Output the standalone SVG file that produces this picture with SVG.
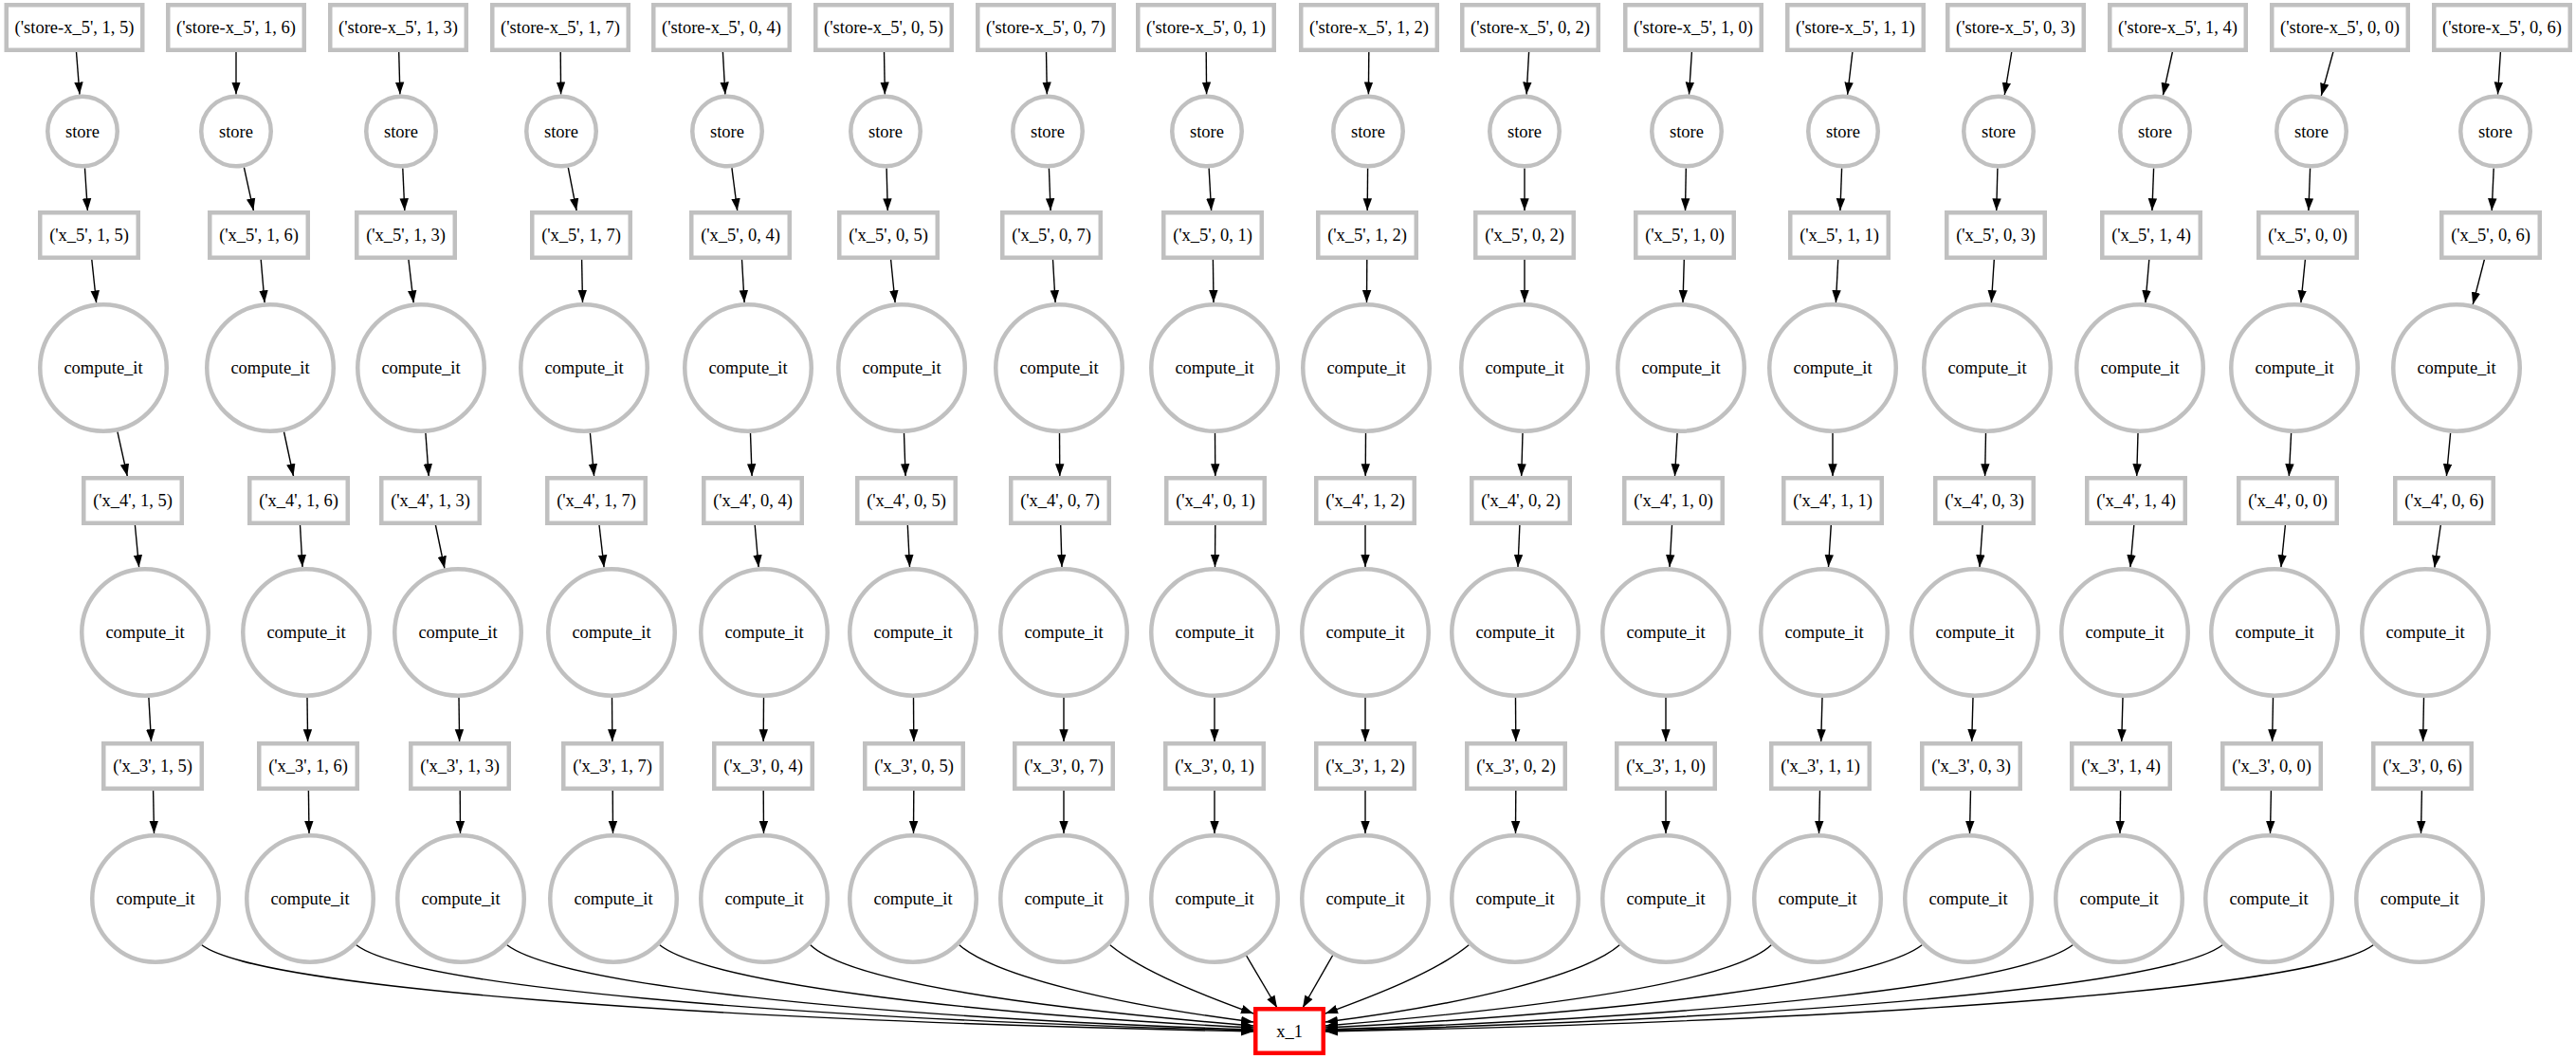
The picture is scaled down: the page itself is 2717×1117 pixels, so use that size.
<svg xmlns="http://www.w3.org/2000/svg" width="2717" height="1117" viewBox="0 0 2717 1117">
<style>
  .node rect, .node circle { fill: #ffffff; stroke: #c0c0c0; stroke-width: 4.5; }
  .node.out rect { stroke: #ff0000; }
  .node text { font-family: "Liberation Serif", "Times New Roman", serif; font-size: 18.5px; text-anchor: middle; fill: #000000; }
  #edges path { fill: none; stroke: #000000; stroke-width: 1.4; marker-end: url(#arrow); }
</style>
<defs>
  <marker id="arrow" markerUnits="userSpaceOnUse" markerWidth="14" markerHeight="10" viewBox="0 0 14 10" refX="13" refY="5" orient="auto">
    <path d="M0,0.3 L13,5 L0,9.7 z" fill="#000000"/>
  </marker>
</defs>
<rect width="2717" height="1117" fill="#ffffff"/>

<g id="edges">
  <!-- column (1,5) -->
  <path d="M80.5,54.75 L84,99.6"/>
  <path d="M89.5,177.4 L92.4,222.25"/>
  <path d="M96.8,273.75 L101.6,319.4"/>
  <path d="M123.9,455.4 L134.3,502.25"/>
  <path d="M142.4,553.75 L146.6,598.3"/>
  <path d="M156.9,735.9 L159.5,782.25"/>
  <path d="M161.6,833.75 L162.5,879"/>
  <!-- column (1,6) -->
  <path d="M249,54.75 L249,99.5"/>
  <path d="M257.4,176.6 L267.4,222.25"/>
  <path d="M275.2,273.75 L279.1,319.25"/>
  <path d="M299.5,455.5 L309.5,502.25"/>
  <path d="M316.5,553.75 L319,598.1"/>
  <path d="M324,736 L324.6,782.25"/>
  <path d="M325.4,833.75 L326,879"/>
  <!-- column (1,3) -->
  <path d="M420.7,54.75 L421.9,99.5"/>
  <path d="M424.8,177.5 L426.8,222.25"/>
  <path d="M430.9,273.75 L436.2,319.4"/>
  <path d="M448.9,456.8 L452.2,502.25"/>
  <path d="M459.4,553.75 L468.9,599.5"/>
  <path d="M484,736 L484.6,782.25"/>
  <path d="M485.2,833.75 L485.5,879"/>
  <!-- column (1,7) -->
  <path d="M591.2,54.75 L591.6,99.5"/>
  <path d="M599.3,176.8 L608.1,222.25"/>
  <path d="M613.6,273.75 L614.5,319"/>
  <path d="M622.4,456.7 L626.6,502.25"/>
  <path d="M632,553.75 L637.1,598.4"/>
  <path d="M645.5,736 L645.8,782.25"/>
  <path d="M646.2,833.75 L646.5,879"/>
  <!-- column (0,4) -->
  <path d="M762.4,54.75 L764.9,99.6"/>
  <path d="M771.9,177.2 L777.7,222.25"/>
  <path d="M782.5,273.75 L785.1,319.1"/>
  <path d="M791.5,457 L793.1,502.25"/>
  <path d="M796.2,553.75 L800.1,598.3"/>
  <path d="M805.5,736 L805.2,782.25"/>
  <path d="M805.2,833.75 L805.5,879"/>
  <!-- column (0,5) -->
  <path d="M932.5,54.75 L933.3,99.5"/>
  <path d="M935.1,177.5 L936.3,222.25"/>
  <path d="M939.6,273.75 L944.1,319.3"/>
  <path d="M953.5,457 L955.1,502.25"/>
  <path d="M957.3,553.75 L959.5,598.1"/>
  <path d="M963.5,736 L963.8,782.25"/>
  <path d="M963.8,833.75 L963.5,879"/>
  <!-- column (0,7) -->
  <path d="M1103.5,54.75 L1104.3,99.5"/>
  <path d="M1106.4,177.5 L1108.1,222.25"/>
  <path d="M1110.5,273.75 L1113.1,319.1"/>
  <path d="M1117.5,457 L1117.8,502.25"/>
  <path d="M1118.7,553.75 L1120,598"/>
  <path d="M1122,736 L1122,782.25"/>
  <path d="M1122,833.75 L1122,879"/>
  <!-- column (0,1) -->
  <path d="M1272.2,54.75 L1272.6,99.5"/>
  <path d="M1275.1,177.4 L1277.6,222.25"/>
  <path d="M1279.4,273.75 L1280,319"/>
  <path d="M1281.5,457 L1281.8,502.25"/>
  <path d="M1281.8,553.75 L1281.5,598"/>
  <path d="M1281,736 L1281,782.25"/>
  <path d="M1281,833.75 L1281,879"/>
  <!-- column (1,2) -->
  <path d="M1443.8,54.75 L1443.4,99.5"/>
  <path d="M1442.6,177.5 L1442.2,222.25"/>
  <path d="M1441.8,273.75 L1441.5,319"/>
  <path d="M1440.5,457 L1440.2,502.25"/>
  <path d="M1440,553.75 L1440,598"/>
  <path d="M1440,736 L1440,782.25"/>
  <path d="M1440,833.75 L1440,879"/>
  <!-- column (0,2) -->
  <path d="M1612.6,54.75 L1610.1,99.6"/>
  <path d="M1608,177.5 L1608,222.25"/>
  <path d="M1608,273.75 L1608,319"/>
  <path d="M1606,457 L1604.7,502.25"/>
  <path d="M1602.9,553.75 L1601,598"/>
  <path d="M1598.5,736 L1598.8,782.25"/>
  <path d="M1598.8,833.75 L1598.5,879"/>
  <!-- column (1,0) -->
  <path d="M1784.4,54.75 L1781.5,99.6"/>
  <path d="M1778.3,177.5 L1777.5,222.25"/>
  <path d="M1776.3,273.75 L1775,319"/>
  <path d="M1769.1,456.9 L1766.5,502.25"/>
  <path d="M1763.5,553.75 L1761,598.1"/>
  <path d="M1757,736 L1757,782.25"/>
  <path d="M1757,833.75 L1757,879"/>
  <!-- column (1,1) -->
  <path d="M1953.9,54.75 L1948.6,99.8"/>
  <path d="M1942.6,177.5 L1940.9,222.25"/>
  <path d="M1938.7,273.75 L1936.4,319.1"/>
  <path d="M1933,457 L1933,502.25"/>
  <path d="M1931.3,553.75 L1928.5,598.1"/>
  <path d="M1922,736 L1920.7,782.25"/>
  <path d="M1919.5,833.75 L1918.5,879"/>
  <!-- column (0,3) -->
  <path d="M2121.8,54.75 L2114.3,100"/>
  <path d="M2106.9,177.5 L2105.7,222.25"/>
  <path d="M2103.3,273.75 L2100.4,319.1"/>
  <path d="M2094.5,457 L2093.6,502.25"/>
  <path d="M2091.1,553.75 L2088,598.2"/>
  <path d="M2081,736 L2079.7,782.25"/>
  <path d="M2078.5,833.75 L2077.5,879"/>
  <!-- column (1,4) -->
  <path d="M2291.4,54.75 L2281.4,100.4"/>
  <path d="M2271.6,177.5 L2269.9,222.25"/>
  <path d="M2266.8,273.75 L2262.9,319.2"/>
  <path d="M2255,457 L2253.7,502.25"/>
  <path d="M2250.8,553.75 L2246.9,598.2"/>
  <path d="M2239,736 L2237.7,782.25"/>
  <path d="M2236.6,833.75 L2236,879"/>
  <!-- column (0,0) -->
  <path d="M2460.9,54.75 L2448.3,100.9"/>
  <path d="M2436.6,177.5 L2434.9,222.25"/>
  <path d="M2431.4,273.75 L2426.9,319.3"/>
  <path d="M2416.6,456.9 L2414.3,502.25"/>
  <path d="M2410.4,553.75 L2405.9,598.3"/>
  <path d="M2397.5,736 L2396.6,782.25"/>
  <path d="M2395.4,833.75 L2394.5,879"/>
  <!-- column (0,6) -->
  <path d="M2637.4,54.75 L2634.5,99.6"/>
  <path d="M2630.2,177.5 L2628.2,222.25"/>
  <path d="M2620.4,273.75 L2608.2,321.2"/>
  <path d="M2584.6,456.7 L2580.4,502.25"/>
  <path d="M2574.3,553.75 L2567.8,598.7"/>
  <path d="M2556.5,736 L2555.6,782.25"/>
  <path d="M2554.4,833.75 L2553.5,879"/>
  <!-- fan-in to x_1 -->
  <path d="M212.8,996.8 C272,1041 722,1076 1322,1088"/>
  <path d="M375.8,996.8 C433,1040 820,1074 1322,1087"/>
  <path d="M534.8,996.8 C590,1038 900,1072 1322,1086"/>
  <path d="M695.8,996.8 C745,1035 1000,1068 1322,1084"/>
  <path d="M854.8,996.8 C895,1035 1080,1062 1322,1082"/>
  <path d="M1011.8,996.8 C1050,1030 1180,1060 1322,1078"/>
  <path d="M1170.8,996.8 C1205,1025 1270,1050 1322,1069"/>
  <path d="M1314,1007 L1347,1063"/>
  <path d="M1406,1007 L1374,1063"/>
  <path d="M1549.2,996.8 C1515,1025 1450,1050 1398,1069"/>
  <path d="M1708.2,996.8 C1670,1030 1540,1060 1398,1078"/>
  <path d="M1868.2,996.8 C1828,1035 1640,1062 1398,1082"/>
  <path d="M2027.2,996.8 C1978,1035 1720,1068 1398,1084"/>
  <path d="M2186.2,996.8 C2131,1038 1820,1072 1398,1086"/>
  <path d="M2344.2,996.8 C2287,1040 1900,1074 1398,1087"/>
  <path d="M2503.2,996.8 C2444,1041 2000,1076 1398,1088"/>
</g>

<!-- column (1,5) -->
<g id="store-x_5-1-5" class="node" transform="translate(78.5,29)"><rect x="-71.75" y="-23.75" width="143.5" height="47.5"/><text y="6">('store-x_5', 1, 5)</text></g>
<g id="store-1-5" class="node" transform="translate(87,138.5)"><circle r="36.75"/><text y="6">store</text></g>
<g id="x_5-1-5" class="node" transform="translate(94,248)"><rect x="-51.75" y="-23.75" width="103.5" height="47.5"/><text y="6">('x_5', 1, 5)</text></g>
<g id="compute-x_5-1-5" class="node" transform="translate(109,388)"><circle r="66.75"/><text y="6">compute_it</text></g>
<g id="x_4-1-5" class="node" transform="translate(140,528)"><rect x="-51.75" y="-23.75" width="103.5" height="47.5"/><text y="6">('x_4', 1, 5)</text></g>
<g id="compute-x_4-1-5" class="node" transform="translate(153,667)"><circle r="66.75"/><text y="6">compute_it</text></g>
<g id="x_3-1-5" class="node" transform="translate(161,808)"><rect x="-51.75" y="-23.75" width="103.5" height="47.5"/><text y="6">('x_3', 1, 5)</text></g>
<g id="compute-x_3-1-5" class="node" transform="translate(164,948)"><circle r="66.75"/><text y="6">compute_it</text></g>

<!-- column (1,6) -->
<g id="store-x_5-1-6" class="node" transform="translate(249,29)"><rect x="-71.75" y="-23.75" width="143.5" height="47.5"/><text y="6">('store-x_5', 1, 6)</text></g>
<g id="store-1-6" class="node" transform="translate(249,138.5)"><circle r="36.75"/><text y="6">store</text></g>
<g id="x_5-1-6" class="node" transform="translate(273,248)"><rect x="-51.75" y="-23.75" width="103.5" height="47.5"/><text y="6">('x_5', 1, 6)</text></g>
<g id="compute-x_5-1-6" class="node" transform="translate(285,388)"><circle r="66.75"/><text y="6">compute_it</text></g>
<g id="x_4-1-6" class="node" transform="translate(315,528)"><rect x="-51.75" y="-23.75" width="103.5" height="47.5"/><text y="6">('x_4', 1, 6)</text></g>
<g id="compute-x_4-1-6" class="node" transform="translate(323,667)"><circle r="66.75"/><text y="6">compute_it</text></g>
<g id="x_3-1-6" class="node" transform="translate(325,808)"><rect x="-51.75" y="-23.75" width="103.5" height="47.5"/><text y="6">('x_3', 1, 6)</text></g>
<g id="compute-x_3-1-6" class="node" transform="translate(327,948)"><circle r="66.75"/><text y="6">compute_it</text></g>

<!-- column (1,3) -->
<g id="store-x_5-1-3" class="node" transform="translate(420,29)"><rect x="-71.75" y="-23.75" width="143.5" height="47.5"/><text y="6">('store-x_5', 1, 3)</text></g>
<g id="store-1-3" class="node" transform="translate(423,138.5)"><circle r="36.75"/><text y="6">store</text></g>
<g id="x_5-1-3" class="node" transform="translate(428,248)"><rect x="-51.75" y="-23.75" width="103.5" height="47.5"/><text y="6">('x_5', 1, 3)</text></g>
<g id="compute-x_5-1-3" class="node" transform="translate(444,388)"><circle r="66.75"/><text y="6">compute_it</text></g>
<g id="x_4-1-3" class="node" transform="translate(454,528)"><rect x="-51.75" y="-23.75" width="103.5" height="47.5"/><text y="6">('x_4', 1, 3)</text></g>
<g id="compute-x_4-1-3" class="node" transform="translate(483,667)"><circle r="66.75"/><text y="6">compute_it</text></g>
<g id="x_3-1-3" class="node" transform="translate(485,808)"><rect x="-51.75" y="-23.75" width="103.5" height="47.5"/><text y="6">('x_3', 1, 3)</text></g>
<g id="compute-x_3-1-3" class="node" transform="translate(486,948)"><circle r="66.75"/><text y="6">compute_it</text></g>

<!-- column (1,7) -->
<g id="store-x_5-1-7" class="node" transform="translate(591,29)"><rect x="-71.75" y="-23.75" width="143.5" height="47.5"/><text y="6">('store-x_5', 1, 7)</text></g>
<g id="store-1-7" class="node" transform="translate(592,138.5)"><circle r="36.75"/><text y="6">store</text></g>
<g id="x_5-1-7" class="node" transform="translate(613,248)"><rect x="-51.75" y="-23.75" width="103.5" height="47.5"/><text y="6">('x_5', 1, 7)</text></g>
<g id="compute-x_5-1-7" class="node" transform="translate(616,388)"><circle r="66.75"/><text y="6">compute_it</text></g>
<g id="x_4-1-7" class="node" transform="translate(629,528)"><rect x="-51.75" y="-23.75" width="103.5" height="47.5"/><text y="6">('x_4', 1, 7)</text></g>
<g id="compute-x_4-1-7" class="node" transform="translate(645,667)"><circle r="66.75"/><text y="6">compute_it</text></g>
<g id="x_3-1-7" class="node" transform="translate(646,808)"><rect x="-51.75" y="-23.75" width="103.5" height="47.5"/><text y="6">('x_3', 1, 7)</text></g>
<g id="compute-x_3-1-7" class="node" transform="translate(647,948)"><circle r="66.75"/><text y="6">compute_it</text></g>

<!-- column (0,4) -->
<g id="store-x_5-0-4" class="node" transform="translate(761,29)"><rect x="-71.75" y="-23.75" width="143.5" height="47.5"/><text y="6">('store-x_5', 0, 4)</text></g>
<g id="store-0-4" class="node" transform="translate(767,138.5)"><circle r="36.75"/><text y="6">store</text></g>
<g id="x_5-0-4" class="node" transform="translate(781,248)"><rect x="-51.75" y="-23.75" width="103.5" height="47.5"/><text y="6">('x_5', 0, 4)</text></g>
<g id="compute-x_5-0-4" class="node" transform="translate(789,388)"><circle r="66.75"/><text y="6">compute_it</text></g>
<g id="x_4-0-4" class="node" transform="translate(794,528)"><rect x="-51.75" y="-23.75" width="103.5" height="47.5"/><text y="6">('x_4', 0, 4)</text></g>
<g id="compute-x_4-0-4" class="node" transform="translate(806,667)"><circle r="66.75"/><text y="6">compute_it</text></g>
<g id="x_3-0-4" class="node" transform="translate(805,808)"><rect x="-51.75" y="-23.75" width="103.5" height="47.5"/><text y="6">('x_3', 0, 4)</text></g>
<g id="compute-x_3-0-4" class="node" transform="translate(806,948)"><circle r="66.75"/><text y="6">compute_it</text></g>

<!-- column (0,5) -->
<g id="store-x_5-0-5" class="node" transform="translate(932,29)"><rect x="-71.75" y="-23.75" width="143.5" height="47.5"/><text y="6">('store-x_5', 0, 5)</text></g>
<g id="store-0-5" class="node" transform="translate(934,138.5)"><circle r="36.75"/><text y="6">store</text></g>
<g id="x_5-0-5" class="node" transform="translate(937,248)"><rect x="-51.75" y="-23.75" width="103.5" height="47.5"/><text y="6">('x_5', 0, 5)</text></g>
<g id="compute-x_5-0-5" class="node" transform="translate(951,388)"><circle r="66.75"/><text y="6">compute_it</text></g>
<g id="x_4-0-5" class="node" transform="translate(956,528)"><rect x="-51.75" y="-23.75" width="103.5" height="47.5"/><text y="6">('x_4', 0, 5)</text></g>
<g id="compute-x_4-0-5" class="node" transform="translate(963,667)"><circle r="66.75"/><text y="6">compute_it</text></g>
<g id="x_3-0-5" class="node" transform="translate(964,808)"><rect x="-51.75" y="-23.75" width="103.5" height="47.5"/><text y="6">('x_3', 0, 5)</text></g>
<g id="compute-x_3-0-5" class="node" transform="translate(963,948)"><circle r="66.75"/><text y="6">compute_it</text></g>

<!-- column (0,7) -->
<g id="store-x_5-0-7" class="node" transform="translate(1103,29)"><rect x="-71.75" y="-23.75" width="143.5" height="47.5"/><text y="6">('store-x_5', 0, 7)</text></g>
<g id="store-0-7" class="node" transform="translate(1105,138.5)"><circle r="36.75"/><text y="6">store</text></g>
<g id="x_5-0-7" class="node" transform="translate(1109,248)"><rect x="-51.75" y="-23.75" width="103.5" height="47.5"/><text y="6">('x_5', 0, 7)</text></g>
<g id="compute-x_5-0-7" class="node" transform="translate(1117,388)"><circle r="66.75"/><text y="6">compute_it</text></g>
<g id="x_4-0-7" class="node" transform="translate(1118,528)"><rect x="-51.75" y="-23.75" width="103.5" height="47.5"/><text y="6">('x_4', 0, 7)</text></g>
<g id="compute-x_4-0-7" class="node" transform="translate(1122,667)"><circle r="66.75"/><text y="6">compute_it</text></g>
<g id="x_3-0-7" class="node" transform="translate(1122,808)"><rect x="-51.75" y="-23.75" width="103.5" height="47.5"/><text y="6">('x_3', 0, 7)</text></g>
<g id="compute-x_3-0-7" class="node" transform="translate(1122,948)"><circle r="66.75"/><text y="6">compute_it</text></g>

<!-- column (0,1) -->
<g id="store-x_5-0-1" class="node" transform="translate(1272,29)"><rect x="-71.75" y="-23.75" width="143.5" height="47.5"/><text y="6">('store-x_5', 0, 1)</text></g>
<g id="store-0-1" class="node" transform="translate(1273,138.5)"><circle r="36.75"/><text y="6">store</text></g>
<g id="x_5-0-1" class="node" transform="translate(1279,248)"><rect x="-51.75" y="-23.75" width="103.5" height="47.5"/><text y="6">('x_5', 0, 1)</text></g>
<g id="compute-x_5-0-1" class="node" transform="translate(1281,388)"><circle r="66.75"/><text y="6">compute_it</text></g>
<g id="x_4-0-1" class="node" transform="translate(1282,528)"><rect x="-51.75" y="-23.75" width="103.5" height="47.5"/><text y="6">('x_4', 0, 1)</text></g>
<g id="compute-x_4-0-1" class="node" transform="translate(1281,667)"><circle r="66.75"/><text y="6">compute_it</text></g>
<g id="x_3-0-1" class="node" transform="translate(1281,808)"><rect x="-51.75" y="-23.75" width="103.5" height="47.5"/><text y="6">('x_3', 0, 1)</text></g>
<g id="compute-x_3-0-1" class="node" transform="translate(1281,948)"><circle r="66.75"/><text y="6">compute_it</text></g>

<!-- column (1,2) -->
<g id="store-x_5-1-2" class="node" transform="translate(1444,29)"><rect x="-71.75" y="-23.75" width="143.5" height="47.5"/><text y="6">('store-x_5', 1, 2)</text></g>
<g id="store-1-2" class="node" transform="translate(1443,138.5)"><circle r="36.75"/><text y="6">store</text></g>
<g id="x_5-1-2" class="node" transform="translate(1442,248)"><rect x="-51.75" y="-23.75" width="103.5" height="47.5"/><text y="6">('x_5', 1, 2)</text></g>
<g id="compute-x_5-1-2" class="node" transform="translate(1441,388)"><circle r="66.75"/><text y="6">compute_it</text></g>
<g id="x_4-1-2" class="node" transform="translate(1440,528)"><rect x="-51.75" y="-23.75" width="103.5" height="47.5"/><text y="6">('x_4', 1, 2)</text></g>
<g id="compute-x_4-1-2" class="node" transform="translate(1440,667)"><circle r="66.75"/><text y="6">compute_it</text></g>
<g id="x_3-1-2" class="node" transform="translate(1440,808)"><rect x="-51.75" y="-23.75" width="103.5" height="47.5"/><text y="6">('x_3', 1, 2)</text></g>
<g id="compute-x_3-1-2" class="node" transform="translate(1440,948)"><circle r="66.75"/><text y="6">compute_it</text></g>

<!-- column (0,2) -->
<g id="store-x_5-0-2" class="node" transform="translate(1614,29)"><rect x="-71.75" y="-23.75" width="143.5" height="47.5"/><text y="6">('store-x_5', 0, 2)</text></g>
<g id="store-0-2" class="node" transform="translate(1608,138.5)"><circle r="36.75"/><text y="6">store</text></g>
<g id="x_5-0-2" class="node" transform="translate(1608,248)"><rect x="-51.75" y="-23.75" width="103.5" height="47.5"/><text y="6">('x_5', 0, 2)</text></g>
<g id="compute-x_5-0-2" class="node" transform="translate(1608,388)"><circle r="66.75"/><text y="6">compute_it</text></g>
<g id="x_4-0-2" class="node" transform="translate(1604,528)"><rect x="-51.75" y="-23.75" width="103.5" height="47.5"/><text y="6">('x_4', 0, 2)</text></g>
<g id="compute-x_4-0-2" class="node" transform="translate(1598,667)"><circle r="66.75"/><text y="6">compute_it</text></g>
<g id="x_3-0-2" class="node" transform="translate(1599,808)"><rect x="-51.75" y="-23.75" width="103.5" height="47.5"/><text y="6">('x_3', 0, 2)</text></g>
<g id="compute-x_3-0-2" class="node" transform="translate(1598,948)"><circle r="66.75"/><text y="6">compute_it</text></g>

<!-- column (1,0) -->
<g id="store-x_5-1-0" class="node" transform="translate(1786,29)"><rect x="-71.75" y="-23.75" width="143.5" height="47.5"/><text y="6">('store-x_5', 1, 0)</text></g>
<g id="store-1-0" class="node" transform="translate(1779,138.5)"><circle r="36.75"/><text y="6">store</text></g>
<g id="x_5-1-0" class="node" transform="translate(1777,248)"><rect x="-51.75" y="-23.75" width="103.5" height="47.5"/><text y="6">('x_5', 1, 0)</text></g>
<g id="compute-x_5-1-0" class="node" transform="translate(1773,388)"><circle r="66.75"/><text y="6">compute_it</text></g>
<g id="x_4-1-0" class="node" transform="translate(1765,528)"><rect x="-51.75" y="-23.75" width="103.5" height="47.5"/><text y="6">('x_4', 1, 0)</text></g>
<g id="compute-x_4-1-0" class="node" transform="translate(1757,667)"><circle r="66.75"/><text y="6">compute_it</text></g>
<g id="x_3-1-0" class="node" transform="translate(1757,808)"><rect x="-51.75" y="-23.75" width="103.5" height="47.5"/><text y="6">('x_3', 1, 0)</text></g>
<g id="compute-x_3-1-0" class="node" transform="translate(1757,948)"><circle r="66.75"/><text y="6">compute_it</text></g>

<!-- column (1,1) -->
<g id="store-x_5-1-1" class="node" transform="translate(1957,29)"><rect x="-71.75" y="-23.75" width="143.5" height="47.5"/><text y="6">('store-x_5', 1, 1)</text></g>
<g id="store-1-1" class="node" transform="translate(1944,138.5)"><circle r="36.75"/><text y="6">store</text></g>
<g id="x_5-1-1" class="node" transform="translate(1940,248)"><rect x="-51.75" y="-23.75" width="103.5" height="47.5"/><text y="6">('x_5', 1, 1)</text></g>
<g id="compute-x_5-1-1" class="node" transform="translate(1933,388)"><circle r="66.75"/><text y="6">compute_it</text></g>
<g id="x_4-1-1" class="node" transform="translate(1933,528)"><rect x="-51.75" y="-23.75" width="103.5" height="47.5"/><text y="6">('x_4', 1, 1)</text></g>
<g id="compute-x_4-1-1" class="node" transform="translate(1924,667)"><circle r="66.75"/><text y="6">compute_it</text></g>
<g id="x_3-1-1" class="node" transform="translate(1920,808)"><rect x="-51.75" y="-23.75" width="103.5" height="47.5"/><text y="6">('x_3', 1, 1)</text></g>
<g id="compute-x_3-1-1" class="node" transform="translate(1917,948)"><circle r="66.75"/><text y="6">compute_it</text></g>

<!-- column (0,3) -->
<g id="store-x_5-0-3" class="node" transform="translate(2126,29)"><rect x="-71.75" y="-23.75" width="143.5" height="47.5"/><text y="6">('store-x_5', 0, 3)</text></g>
<g id="store-0-3" class="node" transform="translate(2108,138.5)"><circle r="36.75"/><text y="6">store</text></g>
<g id="x_5-0-3" class="node" transform="translate(2105,248)"><rect x="-51.75" y="-23.75" width="103.5" height="47.5"/><text y="6">('x_5', 0, 3)</text></g>
<g id="compute-x_5-0-3" class="node" transform="translate(2096,388)"><circle r="66.75"/><text y="6">compute_it</text></g>
<g id="x_4-0-3" class="node" transform="translate(2093,528)"><rect x="-51.75" y="-23.75" width="103.5" height="47.5"/><text y="6">('x_4', 0, 3)</text></g>
<g id="compute-x_4-0-3" class="node" transform="translate(2083,667)"><circle r="66.75"/><text y="6">compute_it</text></g>
<g id="x_3-0-3" class="node" transform="translate(2079,808)"><rect x="-51.75" y="-23.75" width="103.5" height="47.5"/><text y="6">('x_3', 0, 3)</text></g>
<g id="compute-x_3-0-3" class="node" transform="translate(2076,948)"><circle r="66.75"/><text y="6">compute_it</text></g>

<!-- column (1,4) -->
<g id="store-x_5-1-4" class="node" transform="translate(2297,29)"><rect x="-71.75" y="-23.75" width="143.5" height="47.5"/><text y="6">('store-x_5', 1, 4)</text></g>
<g id="store-1-4" class="node" transform="translate(2273,138.5)"><circle r="36.75"/><text y="6">store</text></g>
<g id="x_5-1-4" class="node" transform="translate(2269,248)"><rect x="-51.75" y="-23.75" width="103.5" height="47.5"/><text y="6">('x_5', 1, 4)</text></g>
<g id="compute-x_5-1-4" class="node" transform="translate(2257,388)"><circle r="66.75"/><text y="6">compute_it</text></g>
<g id="x_4-1-4" class="node" transform="translate(2253,528)"><rect x="-51.75" y="-23.75" width="103.5" height="47.5"/><text y="6">('x_4', 1, 4)</text></g>
<g id="compute-x_4-1-4" class="node" transform="translate(2241,667)"><circle r="66.75"/><text y="6">compute_it</text></g>
<g id="x_3-1-4" class="node" transform="translate(2237,808)"><rect x="-51.75" y="-23.75" width="103.5" height="47.5"/><text y="6">('x_3', 1, 4)</text></g>
<g id="compute-x_3-1-4" class="node" transform="translate(2235,948)"><circle r="66.75"/><text y="6">compute_it</text></g>

<!-- column (0,0) -->
<g id="store-x_5-0-0" class="node" transform="translate(2468,29)"><rect x="-71.75" y="-23.75" width="143.5" height="47.5"/><text y="6">('store-x_5', 0, 0)</text></g>
<g id="store-0-0" class="node" transform="translate(2438,138.5)"><circle r="36.75"/><text y="6">store</text></g>
<g id="x_5-0-0" class="node" transform="translate(2434,248)"><rect x="-51.75" y="-23.75" width="103.5" height="47.5"/><text y="6">('x_5', 0, 0)</text></g>
<g id="compute-x_5-0-0" class="node" transform="translate(2420,388)"><circle r="66.75"/><text y="6">compute_it</text></g>
<g id="x_4-0-0" class="node" transform="translate(2413,528)"><rect x="-51.75" y="-23.75" width="103.5" height="47.5"/><text y="6">('x_4', 0, 0)</text></g>
<g id="compute-x_4-0-0" class="node" transform="translate(2399,667)"><circle r="66.75"/><text y="6">compute_it</text></g>
<g id="x_3-0-0" class="node" transform="translate(2396,808)"><rect x="-51.75" y="-23.75" width="103.5" height="47.5"/><text y="6">('x_3', 0, 0)</text></g>
<g id="compute-x_3-0-0" class="node" transform="translate(2393,948)"><circle r="66.75"/><text y="6">compute_it</text></g>

<!-- column (0,6) -->
<g id="store-x_5-0-6" class="node" transform="translate(2639,29)"><rect x="-71.75" y="-23.75" width="143.5" height="47.5"/><text y="6">('store-x_5', 0, 6)</text></g>
<g id="store-0-6" class="node" transform="translate(2632,138.5)"><circle r="36.75"/><text y="6">store</text></g>
<g id="x_5-0-6" class="node" transform="translate(2627,248)"><rect x="-51.75" y="-23.75" width="103.5" height="47.5"/><text y="6">('x_5', 0, 6)</text></g>
<g id="compute-x_5-0-6" class="node" transform="translate(2591,388)"><circle r="66.75"/><text y="6">compute_it</text></g>
<g id="x_4-0-6" class="node" transform="translate(2578,528)"><rect x="-51.75" y="-23.75" width="103.5" height="47.5"/><text y="6">('x_4', 0, 6)</text></g>
<g id="compute-x_4-0-6" class="node" transform="translate(2558,667)"><circle r="66.75"/><text y="6">compute_it</text></g>
<g id="x_3-0-6" class="node" transform="translate(2555,808)"><rect x="-51.75" y="-23.75" width="103.5" height="47.5"/><text y="6">('x_3', 0, 6)</text></g>
<g id="compute-x_3-0-6" class="node" transform="translate(2552,948)"><circle r="66.75"/><text y="6">compute_it</text></g>

<!-- sink -->
<g id="x_1" class="node out" transform="translate(1360,1087.5)"><rect x="-35.75" y="-23.25" width="71.5" height="46.5"/><text y="6">x_1</text></g>
</svg>
